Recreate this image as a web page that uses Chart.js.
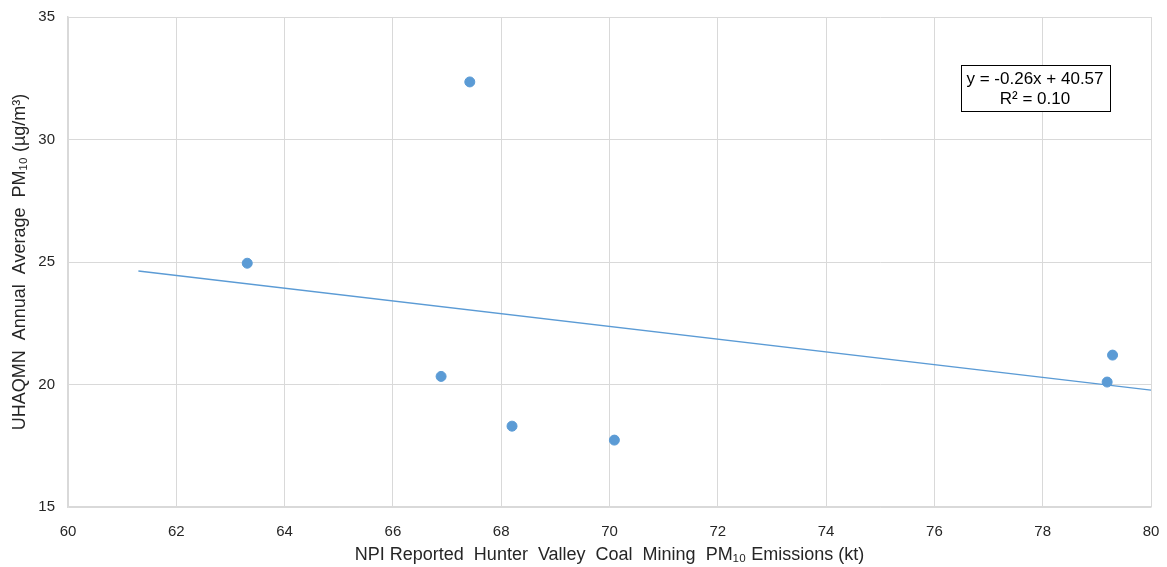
<!DOCTYPE html>
<html>
<head>
<meta charset="utf-8">
<script src="https://cdn.jsdelivr.net/npm/chart.js@4.4.1/dist/chart.umd.min.js"></script>
<style>
  html, body { margin: 0; padding: 0; background: #ffffff; }
  #wrap { width: 1167px; height: 567px; position: relative; }
</style>
</head>
<body>
<div id="wrap"><canvas id="chart" width="1167" height="567"></canvas></div>
<script>
// Annual emissions (kt) vs. annual average PM10 (µg/m³)
const emissionsKt = [63.31, 67.42, 66.89, 68.20, 70.09, 79.19, 79.29];
const pm10Annual  = [24.95, 32.35, 20.33, 18.30, 17.73, 20.10, 21.20];

// Linear trendline, as given by the fitted equation
const trendSlope = -0.26;
const trendIntercept = 40.57;
const trendRange = [61.3, 80];
const rSquared = 0.10;

const xTicks = [60, 62, 64, 66, 68, 70, 72, 74, 76, 78, 80];
const yTicks = [15, 20, 25, 30, 35];

const blue = '#5B9BD5';
const gridGrey = '#D9D9D9';
const textColor = '#262626';
const fontFamily = '"Liberation Sans", Arial, sans-serif';

const points = emissionsKt.map((x, i) => ({ x, y: pm10Annual[i] }));
const trendPoints = trendRange.map(x => ({ x, y: trendSlope * x + trendIntercept }));

// Equation / R² label box, anchored in data units
const equationBox = {
  id: 'equationBox',
  afterDatasetsDraw(chart) {
    const { ctx, scales } = chart;
    const cx = Math.round(scales.x.getPixelForValue(77.86));
    const cy = Math.round(scales.y.getPixelForValue(32.1));
    const w = 149, h = 46;
    ctx.save();
    ctx.fillStyle = '#ffffff';
    ctx.fillRect(cx - w / 2, cy - h / 2, w, h);
    ctx.strokeStyle = '#000000';
    ctx.lineWidth = 1;
    ctx.strokeRect(Math.round(cx - w / 2) + 0.5, Math.round(cy - h / 2) + 0.5, w, h);
    ctx.fillStyle = '#000000';
    ctx.font = '17px ' + fontFamily;
    ctx.textAlign = 'center';
    ctx.textBaseline = 'middle';
    const sign = trendIntercept >= 0 ? '+ ' : '- ';
    ctx.fillText('y = ' + trendSlope.toFixed(2) + 'x ' + sign + Math.abs(trendIntercept).toFixed(2), cx, cy - 9);
    ctx.fillText('R² = ' + rSquared.toFixed(2), cx, cy + 11);
    ctx.restore();
  }
};

// Keep the plot frame fixed: no extra room reserved for overhanging tick labels
function clearScalePadding(scale) {
  scale.paddingTop = 0;
  scale.paddingBottom = 0;
  scale.paddingLeft = 0;
  scale.paddingRight = 0;
}

new Chart(document.getElementById('chart'), {
  type: 'scatter',
  data: {
    datasets: [
      {
        label: 'PM10',
        data: points,
        backgroundColor: blue,
        borderColor: blue,
        pointRadius: 5,
        pointHoverRadius: 5,
        order: 1
      },
      {
        label: 'Trend',
        type: 'line',
        data: trendPoints,
        borderColor: blue,
        borderWidth: 1.3,
        pointRadius: 0,
        fill: false,
        order: 2
      }
    ]
  },
  options: {
    responsive: false,
    animation: false,
    events: [],
    layout: { padding: { top: 17, right: 16, left: 0, bottom: 0 } },
    plugins: {
      legend: { display: false },
      tooltip: { enabled: false }
    },
    scales: {
      x: {
        type: 'linear',
        min: 60, max: 80,
        afterBuildTicks(scale) { scale.ticks = xTicks.map(v => ({ value: v })); },
        afterFit(scale) { scale.height = 60; clearScalePadding(scale); },
        grid: { color: gridGrey, lineWidth: 1, drawTicks: false },
        border: { color: gridGrey, width: 1.5 },
        ticks: { color: textColor, font: { family: fontFamily, size: 15 }, padding: 16, maxRotation: 0 },
        title: {
          display: true,
          text: 'NPI Reported  Hunter  Valley  Coal  Mining  PM₁₀ Emissions (kt)',
          color: textColor,
          font: { family: fontFamily, size: 18 },
          padding: { top: 0, bottom: 1 }
        }
      },
      y: {
        type: 'linear',
        min: 15, max: 35,
        afterBuildTicks(scale) { scale.ticks = yTicks.map(v => ({ value: v })); },
        afterFit(scale) { scale.width = 68; clearScalePadding(scale); },
        grid: { color: gridGrey, lineWidth: 1, drawTicks: false },
        border: { color: gridGrey, width: 1.5 },
        ticks: { color: textColor, font: { family: fontFamily, size: 15 }, padding: 13 },
        title: {
          display: true,
          text: 'UHAQMN  Annual  Average  PM₁₀ (µg/m³)',
          color: textColor,
          font: { family: fontFamily, size: 18 },
          padding: { top: 9, bottom: 0 }
        }
      }
    }
  },
  plugins: [equationBox]
});
</script>
</body>
</html>
